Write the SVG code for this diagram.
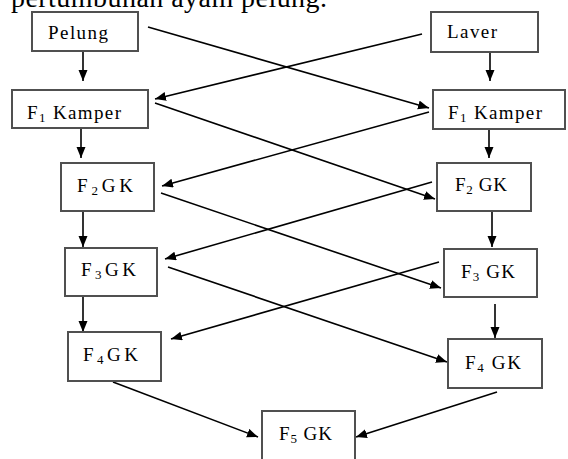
<svg xmlns="http://www.w3.org/2000/svg" width="568" height="459" viewBox="0 0 568 459">
<style>
.box{fill:#fff;stroke:#505050;stroke-width:2}
.lbl{font-family:"Liberation Serif","Times New Roman",serif;font-size:19px;fill:#000}
.sub{font-size:13px}
.con{stroke:#000;stroke-width:1.6;fill:none;marker-end:url(#ah)}
.title{font-family:"Liberation Serif","Times New Roman",serif;font-size:28px;fill:#000}
</style>
<defs>
<marker id="ah" markerUnits="userSpaceOnUse" markerWidth="12" markerHeight="10" refX="11" refY="4.5" orient="auto">
<path d="M0,0 L11,4.5 L0,9 z" fill="#000"/>
</marker>
</defs>
<rect width="568" height="459" fill="#fff"/>
<text class="title" x="11" y="7" textLength="316" lengthAdjust="spacing">pertumbuhan ayam pelung.</text>

<g id="connectors">
<line class="con" x1="83" y1="51" x2="83" y2="81"/>
<line class="con" x1="490" y1="52" x2="490" y2="81"/>
<line class="con" x1="148" y1="27" x2="429" y2="108"/>
<line class="con" x1="422" y1="34" x2="155" y2="99"/>
<line class="con" x1="81" y1="128" x2="81" y2="158"/>
<line class="con" x1="489" y1="129" x2="489" y2="158"/>
<line class="con" x1="155" y1="103" x2="435" y2="199"/>
<line class="con" x1="429" y1="112" x2="162" y2="186"/>
<line class="con" x1="83" y1="211" x2="83" y2="247"/>
<line class="con" x1="492" y1="211" x2="492" y2="247"/>
<line class="con" x1="161" y1="193" x2="441" y2="288"/>
<line class="con" x1="432" y1="182" x2="165" y2="259"/>
<line class="con" x1="83" y1="296" x2="83" y2="332"/>
<line class="con" x1="495" y1="304" x2="495" y2="338"/>
<line class="con" x1="168" y1="267" x2="447" y2="362"/>
<line class="con" x1="439" y1="262" x2="171" y2="339"/>
<line class="con" x1="113" y1="382" x2="258" y2="437"/>
<line class="con" x1="497" y1="392" x2="356" y2="437"/>
</g>

<g id="pelung">
<rect class="box" x="32" y="12" width="106" height="39"/>
<text class="lbl" x="48" y="39" textLength="60" lengthAdjust="spacing">Pelung</text>
</g>
<g id="laver">
<rect class="box" x="431" y="12" width="107" height="40"/>
<text class="lbl" x="447" y="38" textLength="50" lengthAdjust="spacing">Laver</text>
</g>
<g id="f1-left">
<rect class="box" x="12" y="90" width="136" height="38"/>
<text class="lbl" x="27" y="119" textLength="94" lengthAdjust="spacing">F<tspan class="sub" dy="3">1</tspan><tspan dy="-3"> Kamper</tspan></text>
</g>
<g id="f1-right">
<rect class="box" x="433" y="90" width="132" height="39"/>
<text class="lbl" x="448" y="119" textLength="94" lengthAdjust="spacing">F<tspan class="sub" dy="3">1</tspan><tspan dy="-3"> Kamper</tspan></text>
</g>
<g id="f2-left">
<rect class="box" x="61" y="163" width="93" height="48"/>
<text class="lbl" x="77" y="192" textLength="56" lengthAdjust="spacing">F<tspan class="sub" dy="3">2</tspan><tspan dy="-3">GK</tspan></text>
</g>
<g id="f2-right">
<rect class="box" x="437" y="163" width="94" height="48"/>
<text class="lbl" x="455" y="191" textLength="52" lengthAdjust="spacing">F<tspan class="sub" dy="3">2</tspan><tspan dy="-3"> GK</tspan></text>
</g>
<g id="f3-left">
<rect class="box" x="65" y="248" width="92" height="48"/>
<text class="lbl" x="81" y="276" textLength="55" lengthAdjust="spacing">F<tspan class="sub" dy="3">3</tspan><tspan dy="-3">GK</tspan></text>
</g>
<g id="f3-right">
<rect class="box" x="444" y="249" width="93" height="48"/>
<text class="lbl" x="461" y="278" textLength="54" lengthAdjust="spacing">F<tspan class="sub" dy="3">3</tspan><tspan dy="-3"> GK</tspan></text>
</g>
<g id="f4-left">
<rect class="box" x="68" y="332" width="93" height="49"/>
<text class="lbl" x="83" y="361" textLength="55" lengthAdjust="spacing">F<tspan class="sub" dy="3">4</tspan><tspan dy="-3">GK</tspan></text>
</g>
<g id="f4-right">
<rect class="box" x="448" y="339" width="94" height="49"/>
<text class="lbl" x="465" y="369" textLength="56" lengthAdjust="spacing">F<tspan class="sub" dy="3">4</tspan><tspan dy="-3"> GK</tspan></text>
</g>
<g id="f5">
<rect class="box" x="262" y="411" width="93" height="60"/>
<text class="lbl" x="279" y="440" textLength="53" lengthAdjust="spacing">F<tspan class="sub" dy="3">5</tspan><tspan dy="-3"> GK</tspan></text>
</g>
</svg>
